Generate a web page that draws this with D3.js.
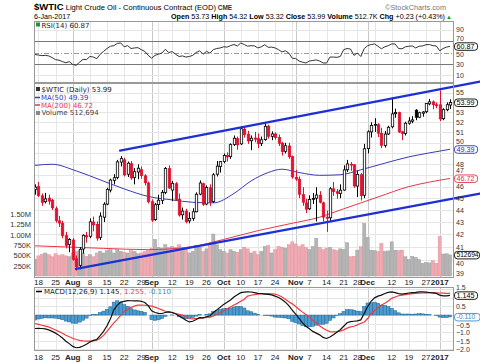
<!DOCTYPE html>
<html>
<head>
<meta charset="utf-8">
<script src="https://cdn.jsdelivr.net/npm/d3@7/dist/d3.min.js"></script>
<style>
body { margin: 0; background: #fff; }
svg { display: block; }
text { font-family: "Liberation Sans", Arial, sans-serif; }
.leg { font-family: "DejaVu Sans", sans-serif; font-size: 7px; }
</style>
</head>
<body>
<div id="chart"></div>
<script>
// trading days: weekdays from 15-Jul-2016 to 6-Jan-2017 minus these holidays
var holidays = ['2016-09-05', '2016-11-24', '2016-12-26', '2017-01-02'];

// daily candles, one row per week
var opens = [45.75,
  46.00, 45.20, 44.70, 45.00, 44.80,
  44.10, 43.10, 42.90, 41.90, 41.20,
  41.55, 40.10, 39.60, 40.85, 41.90,
  41.85, 43.00, 42.80, 41.75, 43.40,
  44.50, 45.70, 46.55, 46.80, 48.20,
  48.40, 47.10, 48.05, 46.80, 47.30,
  47.50, 46.95, 46.30, 44.70, 43.20,
  44.45, 44.80, 45.50, 47.60,
  45.70, 46.25, 44.90, 43.60, 43.90,
  43.10, 43.30, 43.85, 45.35, 46.25,
  44.50, 45.90, 44.70, 47.10, 47.80,
  48.25, 48.80, 48.70, 49.85, 50.40,
  49.90, 51.30, 50.80, 50.20, 50.45,
  50.40, 49.95, 50.30, 51.60, 50.60,
  50.85, 50.50, 49.95, 49.20, 49.70,
  48.70, 46.80, 46.65, 45.30, 44.60,
  44.10, 44.90, 45.00, 45.25, 44.60,
  43.40, 43.35, 45.80, 45.55, 45.40,
  45.70, 47.50, 48.00, 47.95,
  46.05, 47.05, 45.25, 49.45, 51.05,
  51.70, 51.75, 50.90, 49.75, 50.85,
  51.55, 52.85, 52.95, 51.05, 50.90,
  51.90, 52.10, 53.20, 52.50, 52.90,
  53.05, 53.85, 54.05, 53.75,
  53.75, 52.35, 53.25, 53.73];
var highs = [46.20,
  46.40, 45.40, 45.45, 45.30, 44.95,
  44.30, 43.50, 43.10, 42.20, 41.70,
  41.70, 40.35, 41.00, 42.00, 42.20,
  43.30, 43.45, 43.05, 43.80, 44.65,
  45.90, 46.70, 47.10, 48.40, 48.75,
  48.60, 48.25, 48.30, 47.65, 48.00,
  47.80, 47.10, 46.45, 44.90, 44.60,
  45.30, 45.70, 47.75, 47.90,
  46.50, 46.40, 45.40, 44.20, 44.10,
  43.80, 44.15, 45.50, 46.55, 46.35,
  46.10, 46.20, 47.20, 48.30, 48.30,
  49.00, 49.10, 49.95, 50.70, 50.60,
  51.60, 51.60, 51.15, 50.70, 51.05,
  50.90, 50.60, 51.93, 51.75, 51.10,
  51.00, 50.80, 50.10, 50.00, 50.00,
  48.80, 47.50, 46.90, 45.95, 44.95,
  45.25, 45.45, 45.95, 45.60, 44.70,
  43.95, 45.95, 46.40, 45.80, 46.20,
  47.90, 48.40, 48.20, 48.00,
  47.40, 47.20, 49.90, 51.20, 52.00,
  52.40, 51.90, 51.45, 51.15, 51.65,
  54.51, 53.35, 53.05, 51.15, 52.05,
  52.50, 52.60, 53.30, 53.05, 53.10,
  53.90, 54.35, 54.20, 54.00,
  55.24, 53.40, 54.00, 54.32];
var lows = [45.30,
  45.10, 44.35, 44.55, 44.45, 44.00,
  42.95, 42.60, 41.70, 40.90, 40.60,
  39.95, 39.19, 39.30, 40.50, 41.35,
  41.70, 42.25, 41.50, 41.55, 43.00,
  44.40, 45.50, 46.20, 46.65, 47.80,
  46.90, 46.85, 46.60, 46.20, 46.65,
  46.70, 46.10, 44.55, 43.00, 43.10,
  44.00, 44.50, 45.35, 45.80,
  44.75, 44.80, 43.45, 43.20, 42.90,
  42.90, 43.10, 43.80, 45.25, 44.35,
  44.40, 44.35, 44.60, 46.90, 47.25,
  48.10, 48.25, 48.50, 49.70, 49.35,
  49.80, 50.50, 49.90, 49.30, 50.05,
  49.50, 49.70, 50.20, 50.40, 50.25,
  50.30, 49.70, 48.80, 49.00, 48.50,
  46.70, 46.50, 45.00, 44.35, 43.75,
  44.00, 44.50, 43.05, 44.55, 43.05,
  42.20, 43.10, 45.20, 44.95, 45.00,
  45.65, 47.30, 47.40, 45.90,
  45.10, 44.80, 45.00, 49.00, 50.50,
  51.05, 50.55, 49.50, 49.55, 50.75,
  51.40, 52.45, 50.95, 50.25, 50.70,
  51.75, 51.90, 52.20, 52.40, 52.55,
  52.90, 53.70, 53.30, 53.40,
  52.11, 52.20, 53.10, 53.32];
var closes = [45.95,
  45.24, 44.65, 44.94, 44.75, 44.19,
  43.13, 42.92, 41.92, 41.14, 41.60,
  40.06, 39.51, 40.83, 41.93, 41.80,
  43.02, 42.77, 41.71, 43.49, 44.49,
  45.74, 46.58, 46.79, 48.22, 48.52,
  47.05, 48.10, 46.77, 47.33, 47.64,
  46.98, 46.35, 44.70, 43.16, 44.44,
  44.83, 45.50, 47.62, 45.88,
  46.29, 44.90, 43.58, 43.91, 43.03,
  43.30, 43.85, 45.34, 46.32, 44.48,
  45.93, 44.67, 47.05, 47.83, 48.24,
  48.81, 48.69, 49.83, 50.44, 49.81,
  51.35, 50.79, 50.18, 50.44, 50.35,
  49.94, 50.29, 51.60, 50.63, 50.85,
  50.52, 49.96, 49.18, 49.72, 48.70,
  46.86, 46.67, 45.34, 44.66, 44.07,
  44.89, 44.98, 45.27, 44.66, 43.41,
  43.32, 45.81, 45.57, 45.42, 45.69,
  47.49, 48.03, 47.96, 46.06,
  47.08, 45.23, 49.44, 51.06, 51.68,
  51.79, 50.93, 49.77, 50.84, 51.50,
  52.83, 52.98, 51.04, 50.90, 51.90,
  52.12, 52.23, 52.49, 52.95, 53.02,
  53.90, 54.06, 53.77, 53.72,
  52.33, 53.26, 53.76, 53.99];
// volume in thousands
var volumes = [410,
  490, 530, 560, 520, 470,
  540, 500, 520, 490, 470,
  560, 600, 620, 560, 480,
  520, 470, 560, 600, 560,
  620, 640, 560, 640, 600,
  580, 560, 620, 600, 540,
  560, 600, 620, 680, 890,
  700, 680, 760, 700,
  720, 700, 760, 620, 650,
  560, 600, 740, 700, 600,
  660, 740, 1020, 760, 640,
  600, 560, 640, 600, 580,
  640, 700, 660, 560, 600,
  520, 600, 720, 740, 560,
  640, 720, 700, 680, 760,
  830, 780, 720, 760, 690,
  640, 720, 920, 700, 640,
  680, 700, 640, 620, 660,
  650, 810, 470, 480,
  630, 710, 1280, 940, 630,
  620, 600, 790, 600, 610,
  830, 630, 620, 630, 470,
  400, 480, 450, 400, 310,
  330, 320, 370, 310,
  960, 535, 540, 513];

// moving averages read at sample days
var ma50Days = [0, 5, 12, 19, 26, 33, 40, 46, 52, 58, 63, 68, 72, 77, 83, 89, 95, 102, 109, 115, 121];
var ma50Values = [47.9, 48.0, 47.4, 46.6, 45.8, 45.15, 44.85, 44.65, 44.6, 45.4, 46.5, 47.25, 47.55, 47.25, 47.0, 47.05, 47.5, 48.1, 48.68, 49.05, 49.39];
var ma200Days = [0, 10, 20, 33, 45, 55, 65, 75, 83, 90, 100, 109, 115, 121];
var ma200Values = [41.1, 41.0, 40.9, 40.8, 41.0, 41.6, 42.3, 42.9, 43.4, 44.1, 45.1, 46.0, 46.4, 46.72];

var rsiValues = [46.5,
  45.5, 44.5, 45, 44, 41,
  37.5, 36.5, 34, 32, 34,
  29, 27.5, 33, 38, 37.5,
  43, 42, 39, 47, 52,
  57, 61, 62, 66, 66.7,
  60, 62, 57, 58, 58.5,
  55, 52, 45, 40, 45,
  47, 49, 55.6, 50,
  51.5, 47, 43, 44, 42,
  43, 45, 50, 53, 47,
  52, 49, 55, 57, 58,
  60, 59.5, 62, 64, 61.5,
  66.7, 64, 61, 62, 61.5,
  58, 60, 63.7, 59, 59.5,
  58, 55, 51, 53, 49,
  40, 39.5, 35, 33, 31.6,
  35, 36, 37, 35, 31.6,
  31.5, 42, 42, 41.5, 43,
  55, 57, 56, 45,
  49, 43, 57, 62, 64,
  65, 61, 56.5, 60, 62,
  65, 65, 57, 56.5, 60,
  61, 61.5, 58, 61, 61.5,
  63.7, 64, 62, 61.5,
  53, 57, 59.5, 60.87];

var macdValues = [-0.78,
  -0.77, -0.78, -0.80, -0.86, -0.95,
  -1.05, -1.18, -1.33, -1.52, -1.66,
  -1.82, -1.90, -1.88, -1.80, -1.70,
  -1.56, -1.47, -1.42, -1.20, -0.95,
  -0.62, -0.22, 0.30, 0.58, 0.75,
  0.80, 0.84, 0.83, 0.82, 0.83,
  0.80, 0.73, 0.55, 0.25, 0.15,
  0.10, 0.09, 0.15, 0.19,
  0.15, 0.08, -0.06, -0.17, -0.30,
  -0.40, -0.36, -0.26, -0.15, -0.16,
  -0.10, -0.05, 0.15, 0.30, 0.45,
  0.62, 0.75, 0.88, 1.05, 1.18,
  1.30, 1.33, 1.35, 1.34, 1.30,
  1.26, 1.24, 1.22, 1.20, 1.17,
  1.10, 1.02, 0.90, 0.75, 0.55,
  0.28, 0.05, -0.20, -0.45, -0.65,
  -0.80, -0.95, -1.05, -1.15, -1.30,
  -1.36, -1.28, -1.15, -1.00, -0.85,
  -0.65, -0.45, -0.38, -0.36,
  -0.34, -0.28, 0.10, 0.50, 0.80,
  1.00, 1.10, 1.16, 1.25, 1.32,
  1.35, 1.30, 1.25, 1.22, 1.25,
  1.28, 1.30, 1.32, 1.35, 1.35,
  1.33, 1.31, 1.29, 1.26,
  1.16, 1.12, 1.11, 1.145];
var signalValues = [-0.49,
  -0.54, -0.59, -0.64, -0.69, -0.78,
  -0.87, -0.96, -1.06, -1.17, -1.26,
  -1.35, -1.42, -1.47, -1.50, -1.52,
  -1.52, -1.50, -1.46, -1.35, -1.18,
  -0.95, -0.70, -0.45, -0.25, 0.00,
  0.20, 0.33, 0.45, 0.52, 0.58,
  0.58, 0.57, 0.55, 0.52, 0.46,
  0.38, 0.30, 0.22, 0.19,
  0.14, 0.08, 0.04, 0.00, -0.08,
  -0.20, -0.22, -0.20, -0.18, -0.16,
  -0.14, -0.12, -0.05, 0.03, 0.13,
  0.25, 0.36, 0.47, 0.58, 0.68,
  0.80, 0.92, 1.10, 1.15, 1.19,
  1.22, 1.24, 1.25, 1.24, 1.23,
  1.22, 1.15, 1.05, 0.92, 0.77,
  0.65, 0.50, 0.32, 0.17, 0.03,
  -0.12, -0.30, -0.46, -0.62, -0.76,
  -0.88, -0.96, -0.98, -0.96, -0.93,
  -0.86, -0.76, -0.69, -0.65,
  -0.57, -0.48, -0.40, -0.20, 0.09,
  0.25, 0.42, 0.58, 0.68, 0.82,
  0.97, 1.05, 1.12, 1.16, 1.19,
  1.22, 1.25, 1.26, 1.27, 1.28,
  1.29, 1.29, 1.29, 1.29,
  1.28, 1.27, 1.26, 1.255];
var histValues = [-0.29,
  -0.23, -0.19, -0.16, -0.17, -0.17,
  -0.18, -0.22, -0.27, -0.35, -0.40,
  -0.47, -0.48, -0.41, -0.30, -0.18,
  -0.04, 0.03, 0.04, 0.15, 0.23,
  0.33, 0.48, 0.75, 0.83, 0.75,
  0.60, 0.51, 0.38, 0.30, 0.25,
  0.22, 0.16, 0.00, -0.27, -0.31,
  -0.28, -0.21, -0.07, 0.00,
  0.01, 0.00, -0.10, -0.17, -0.22,
  -0.20, -0.14, -0.06, 0.03, 0.00,
  0.04, 0.07, 0.20, 0.27, 0.32,
  0.37, 0.39, 0.41, 0.47, 0.50,
  0.50, 0.41, 0.25, 0.19, 0.11,
  0.04, 0.00, -0.03, -0.04, -0.06,
  -0.12, -0.13, -0.15, -0.17, -0.22,
  -0.37, -0.45, -0.52, -0.62, -0.68,
  -0.68, -0.65, -0.59, -0.53, -0.54,
  -0.48, -0.32, -0.17, -0.04, 0.08,
  0.21, 0.31, 0.31, 0.29,
  0.23, 0.20, 0.50, 0.70, 0.71,
  0.75, 0.68, 0.58, 0.57, 0.50,
  0.38, 0.25, 0.13, 0.06, 0.06,
  0.06, 0.05, 0.06, 0.08, 0.07,
  0.04, 0.02, 0.00, -0.03,
  -0.12, -0.15, -0.15, -0.11];

// hand-drawn channel lines: [day, price] at each end
var upperTrend = [[24.8, 49.26], [129.7, 56.18]];
var lowerTrend = [[11.95, 39.33], [129.7, 45.39]];

// axis labels (ones hidden under the value boxes are left out)
var priceTicks = [39, 40, 41, 42, 43, 44, 45, 46, 47, 48, 50, 51, 52, 53, 55];
var volumeTicks = [250, 500, 750, 1000, 1250, 1500];
var rsiTicks = [10, 30, 50, 70, 90];
var macdTicks = [1.5, 0.5, -0.5, -1.0, -1.5, -2.0];
var priceGrid = [39, 40, 41, 42, 43, 44, 45, 46, 47, 48, 49, 50, 51, 52, 53, 54, 55];
var macdGrid = [1.5, 1.0, 0.5, 0, -0.5, -1.0, -1.5, -2.0];

var W = 480, H = 363, L = 34, R = 453;
var rsiTop = 21, rsiBot = 82, mainTop = 83, mainBot = 277, macdTop = 287, macdBot = 350;
var RED = '#e0102e', MA50C = '#3a3ab8', MA200C = '#e8374a', TREND = '#1f2fd6';

var fmtDay = d3.timeFormat('%Y-%m-%d');
var days = [];
for (var d = new Date(2016, 6, 15); d <= new Date(2017, 0, 6); d.setDate(d.getDate() + 1)) {
    if (d.getDay() > 0 && d.getDay() < 6 && holidays.indexOf(fmtDay(d)) < 0) days.push(new Date(d));
}

var svg = d3.select('#chart').append('svg')
    .attr('width', W)
    .attr('height', H);

var x = d3.scaleLinear().domain([0, days.length - 1]).range([35, 450]);
var y = d3.scaleLog().domain([38.73, 56.03]).range([mainBot, mainTop]);
var yVol = d3.scaleLinear().domain([0, 1500]).range([276, 214.3]);
var yRsi = d3.scaleLinear().domain([0, 100]).range([81, 24]);
var yMacd = d3.scaleLinear().domain([-2.03, 1.63]).range([macdBot, macdTop]);

// tick positions: first day of each month, first day of each week
var monthTicks = [], weekTicks = [], gridTicks = [];
days.forEach(function (day, i) {
    if (i === 0) return;
    var prev = days[i - 1];
    if (day.getMonth() !== prev.getMonth()) { monthTicks.push(i); gridTicks.push(i); }
    else if (+d3.timeMonday.floor(day) !== +d3.timeMonday.floor(prev)) gridTicks.push(i);
});
gridTicks.forEach(function (i) {
    var near = monthTicks.some(function (m) { return Math.abs(m - i) <= 2; });
    if (!near) weekTicks.push(i);
});

// panels
[[rsiTop, rsiBot], [mainTop, mainBot], [macdTop, macdBot]].forEach(function (p, k) {
    svg.append('clipPath').attr('id', 'clip' + k)
        .append('rect').attr('x', L).attr('y', p[0]).attr('width', R - L).attr('height', p[1] - p[0]);
    svg.append('rect')
        .attr('x', L + 0.5).attr('y', p[0] + 0.5)
        .attr('width', R - L).attr('height', p[1] - p[0])
        .attr('fill', '#fff');
    var g = svg.append('g');
    gridTicks.forEach(function (i) {
        var isMonth = monthTicks.indexOf(i) >= 0;
        g.append('line')
            .attr('x1', Math.round(x(i)) + 0.5).attr('x2', Math.round(x(i)) + 0.5)
            .attr('y1', p[0]).attr('y2', p[1])
            .attr('stroke', isMonth ? '#c8c8c8' : '#e6e6e6');
    });
});

function hGrid(scale, ticks, top, bot) {
    ticks.forEach(function (t) {
        var yy = Math.round(scale(t)) + 0.5;
        if (yy < top || yy > bot) return;
        svg.append('line').attr('x1', L).attr('x2', R).attr('y1', yy).attr('y2', yy).attr('stroke', '#e6e6e6');
    });
}
hGrid(y, priceGrid, mainTop, mainBot);
hGrid(yMacd, macdGrid, macdTop, macdBot);
hGrid(yRsi, [10, 90], rsiTop, rsiBot);

// RSI reference lines
[70, 30].forEach(function (v) {
    svg.append('line').attr('x1', L).attr('x2', R)
        .attr('y1', Math.round(yRsi(v)) + 0.5).attr('y2', Math.round(yRsi(v)) + 0.5)
        .attr('stroke', '#777');
});
svg.append('line').attr('x1', L).attr('x2', R)
    .attr('y1', Math.round(yRsi(50)) + 0.5).attr('y2', Math.round(yRsi(50)) + 0.5)
    .attr('stroke', '#999').attr('stroke-dasharray', '5,2,1,2');

svg.append('path')
    .datum(rsiValues)
    .attr('clip-path', 'url(#clip0)')
    .attr('fill', 'none').attr('stroke', '#333').attr('stroke-width', 1)
    .attr('d', d3.line().x(function (v, i) { return x(i); }).y(function (v) { return yRsi(v); }));

// volume bars behind the candles
var mainG = svg.append('g').attr('clip-path', 'url(#clip1)');
mainG.selectAll('rect.vol')
    .data(volumes)
    .enter()
    .append('rect')
    .attr('class', 'vol')
    .attr('x', function (v, i) { return x(i) - 1.6; })
    .attr('y', function (v) { return yVol(v); })
    .attr('width', 3.2)
    .attr('height', function (v) { return yVol(0) - yVol(v); })
    .attr('fill', function (v, i) { return i > 0 && closes[i] < closes[i - 1] ? '#eeaab2' : '#b4b4b4'; })
    .attr('stroke', function (v, i) { return i > 0 && closes[i] < closes[i - 1] ? '#e08a95' : '#9a9a9a'; })
    .attr('stroke-width', 0.4);

// moving averages
var maLine = d3.line().curve(d3.curveMonotoneX);
mainG.append('path')
    .datum(ma200Days.map(function (dd, k) { return [x(dd), y(ma200Values[k])]; }))
    .attr('fill', 'none').attr('stroke', MA200C).attr('stroke-width', 1)
    .attr('d', maLine);
mainG.append('path')
    .datum(ma50Days.map(function (dd, k) { return [x(dd), y(ma50Values[k])]; }))
    .attr('fill', 'none').attr('stroke', MA50C).attr('stroke-width', 1)
    .attr('d', maLine);

// candles
var cw = 2.4;
closes.forEach(function (c, i) {
    var o = opens[i];
    var col = (i > 0 && c < closes[i - 1]) ? RED : '#000';
    var cx = Math.round(x(i)) + 0.5;
    mainG.append('line')
        .attr('x1', cx).attr('x2', cx)
        .attr('y1', y(highs[i])).attr('y2', y(lows[i]))
        .attr('stroke', col).attr('stroke-width', 1);
    var top = y(Math.max(o, c)), bot = y(Math.min(o, c));
    mainG.append('rect')
        .attr('x', cx - cw / 2).attr('y', top)
        .attr('width', cw).attr('height', Math.max(0.8, bot - top))
        .attr('fill', c >= o ? '#fff' : col)
        .attr('stroke', col).attr('stroke-width', 0.8);
});

// trend channel, drawn past the plot edge like the original
[upperTrend, lowerTrend].forEach(function (t) {
    svg.append('line')
        .attr('x1', x(t[0][0])).attr('y1', y(t[0][1]))
        .attr('x2', x(t[1][0])).attr('y2', y(t[1][1]))
        .attr('stroke', TREND).attr('stroke-width', 2.2).attr('stroke-linecap', 'round');
});

// MACD
var macdG = svg.append('g').attr('clip-path', 'url(#clip2)');
macdG.selectAll('rect.h')
    .data(histValues)
    .enter()
    .append('rect')
    .attr('x', function (v, i) { return x(i) - 1.7; })
    .attr('y', function (v) { return v >= 0 ? yMacd(v) : yMacd(0); })
    .attr('width', 3.4)
    .attr('height', function (v) { return Math.abs(yMacd(v) - yMacd(0)); })
    .attr('fill', '#4c9cd0')
    .attr('stroke', '#1f6694').attr('stroke-width', 0.5);
var lineIdx = d3.line().x(function (v, i) { return x(i); });
macdG.append('path').datum(signalValues)
    .attr('fill', 'none').attr('stroke', '#f03c3c').attr('stroke-width', 1.2)
    .attr('d', lineIdx.y(function (v) { return yMacd(v); }));
macdG.append('path').datum(macdValues)
    .attr('fill', 'none').attr('stroke', '#111').attr('stroke-width', 1.2)
    .attr('d', lineIdx.y(function (v) { return yMacd(v); }));

// panel borders on top
[[rsiTop, rsiBot], [mainTop, mainBot], [macdTop, macdBot]].forEach(function (p) {
    svg.append('rect')
        .attr('x', L + 0.5).attr('y', p[0] + 0.5)
        .attr('width', R - L).attr('height', p[1] - p[0])
        .attr('fill', 'none').attr('stroke', '#999');
});

// right axes; labels next to a value box are nudged clear of it
function rightAxis(scale, ticks, fmt, boxes) {
    var g = svg.append('g')
        .attr('transform', 'translate(' + R + ',0)')
        .call(d3.axisRight(scale).tickValues(ticks).tickSize(0).tickPadding(3).tickFormat(fmt));
    g.select('.domain').remove();
    g.selectAll('text').attr('font-size', 7).attr('fill', '#333')
        .attr('font-family', '"Liberation Sans", Arial, sans-serif')
        .attr('y', function (t) {
            var shift = 0;
            boxes.forEach(function (b) {
                var dist = scale(t) - scale(b);
                if (Math.abs(dist) < 8) shift = (dist < 0 ? -1 : 1) * (8 - Math.abs(dist));
            });
            return shift;
        });
}
rightAxis(yRsi, rsiTicks, d3.format('d'), [60.87]);
rightAxis(y, priceTicks, d3.format('d'), [53.99, 49.39, 46.72, y.invert(yVol(512.694))]);
rightAxis(yMacd, macdTicks, d3.format('.1f'), [1.145, -0.110]);

var volAxis = svg.append('g')
    .attr('transform', 'translate(' + (L - 1) + ',0)')
    .call(d3.axisLeft(yVol).tickValues(volumeTicks).tickSize(0).tickPadding(2)
        .tickFormat(function (v) { return v >= 1000 ? (v / 1000).toFixed(2) + 'M' : v + 'K'; }));
volAxis.select('.domain').remove();
volAxis.selectAll('text').attr('font-size', 7.5).attr('fill', '#333')
    .attr('font-family', '"Liberation Sans", Arial, sans-serif');

// value boxes at the right edge
function valueBox(v, scale, label, color, fs) {
    var yy = scale(v);
    var w = label.length * fs * 0.53 + 4;
    svg.append('rect')
        .attr('x', R + 1.5).attr('y', yy - 3.5)
        .attr('width', w).attr('height', 7.5).attr('rx', 3)
        .attr('fill', '#fff').attr('stroke', color).attr('stroke-width', 0.9);
    svg.append('text')
        .attr('x', R + 3.5).attr('y', yy + 2.5)
        .attr('font-size', fs).attr('fill', color)
        .text(label);
}
valueBox(60.87, yRsi, '60.87', '#000', 7.2);
valueBox(53.99, y, '53.99', '#000', 7.2);
valueBox(49.39, y, '49.39', '#2c2cb0', 7.2);
valueBox(46.72, y, '46.72', '#e0304a', 7.2);
valueBox(512.694, yVol, '512694', '#000', 6.6);
valueBox(1.145, yMacd, '1.145', '#000', 7.2);
valueBox(-0.110, yMacd, '-0.110', '#3a8cc8', 6.8);

// date labels under the price panel and the MACD panel
var fmtMonth = d3.timeFormat('%b');
[mainBot + 7.5, macdBot + 10].forEach(function (yy) {
    weekTicks.concat(monthTicks).forEach(function (i) {
        var isMonth = monthTicks.indexOf(i) >= 0;
        var day = days[i];
        var label = isMonth ? (day.getMonth() === 0 ? String(day.getFullYear()) : fmtMonth(day)) : String(day.getDate());
        svg.append('text')
            .attr('x', x(i)).attr('y', yy)
            .attr('text-anchor', 'middle')
            .attr('font-size', 8)
            .attr('font-weight', isMonth ? 'bold' : 'normal')
            .attr('fill', '#222')
            .text(label);
    });
});

// header
var t1 = svg.append('text').attr('x', L).attr('y', 10);
t1.append('tspan').attr('font-size', 9.5).attr('font-weight', 'bold').text('$WTIC');
t1.append('tspan').attr('font-size', 7.6).text(' Light Crude Oil - Continuous Contract (EOD)');
t1.append('tspan').attr('font-size', 6.5).attr('font-weight', 'bold').attr('fill', '#333').text(' CME');
svg.append('text').attr('x', 446).attr('y', 9.5).attr('text-anchor', 'end')
    .attr('font-size', 7.3).attr('fill', '#777').text('\u00a9StockCharts.com');
svg.append('text').attr('x', L).attr('y', 18.5).attr('font-size', 7.2).text('6-Jan-2017');

var info = [['Open', '53.73'], ['High', '54.32'], ['Low', '53.32'], ['Close', '53.99'], ['Volume', '512.7K'], ['Chg', '+0.23 (+0.43%)']];
var t2 = svg.append('text').attr('x', 445).attr('y', 18.5).attr('text-anchor', 'end').attr('font-size', 7.2);
info.forEach(function (p, k) {
    t2.append('tspan').attr('font-weight', 'bold').text((k ? ' ' : '') + p[0] + ' ');
    t2.append('tspan').text(p[1]);
});
svg.append('text').attr('x', 446).attr('y', 18.5).attr('font-size', 6).attr('fill', '#1a9a1a').text('\u25b2');

// legends
function legend(xx, yy, parts) {
    var t = svg.append('text').attr('class', 'leg').attr('x', xx).attr('y', yy);
    parts.forEach(function (p) { t.append('tspan').attr('fill', p[1]).text(p[0]); });
}
svg.append('rect').attr('x', 36).attr('y', 22.5).attr('width', 4).attr('height', 4).attr('fill', '#2e8b2e');
legend(41.5, 27.5, [['RSI(14) 60.87', '#222']]);

svg.append('rect').attr('x', 36).attr('y', 87).attr('width', 4).attr('height', 4).attr('fill', '#333');
legend(41.5, 92, [['$WTIC (Daily) 53.99', '#222']]);
svg.append('line').attr('x1', 35).attr('x2', 40).attr('y1', 97.5).attr('y2', 97.5).attr('stroke', MA50C).attr('stroke-width', 1.5);
legend(41, 100, [['MA(50) 49.39', MA50C]]);
svg.append('line').attr('x1', 35).attr('x2', 40).attr('y1', 105).attr('y2', 105).attr('stroke', MA200C).attr('stroke-width', 1.5);
legend(41, 107.5, [['MA(200) 46.72', MA200C]]);
svg.append('rect').attr('x', 36).attr('y', 111).attr('width', 4).attr('height', 4).attr('fill', '#888');
legend(41.5, 115, [['Volume 512,694', '#444']]);

svg.append('line').attr('x1', 36).attr('x2', 42).attr('y1', 291.5).attr('y2', 291.5).attr('stroke', '#000').attr('stroke-width', 1.5);
legend(44, 294, [['MACD(12,26,9) 1.145', '#222'], [', 1.255', '#f03c3c'], [', -0.110', '#3a8cc8']]);
</script>
</body>
</html>
